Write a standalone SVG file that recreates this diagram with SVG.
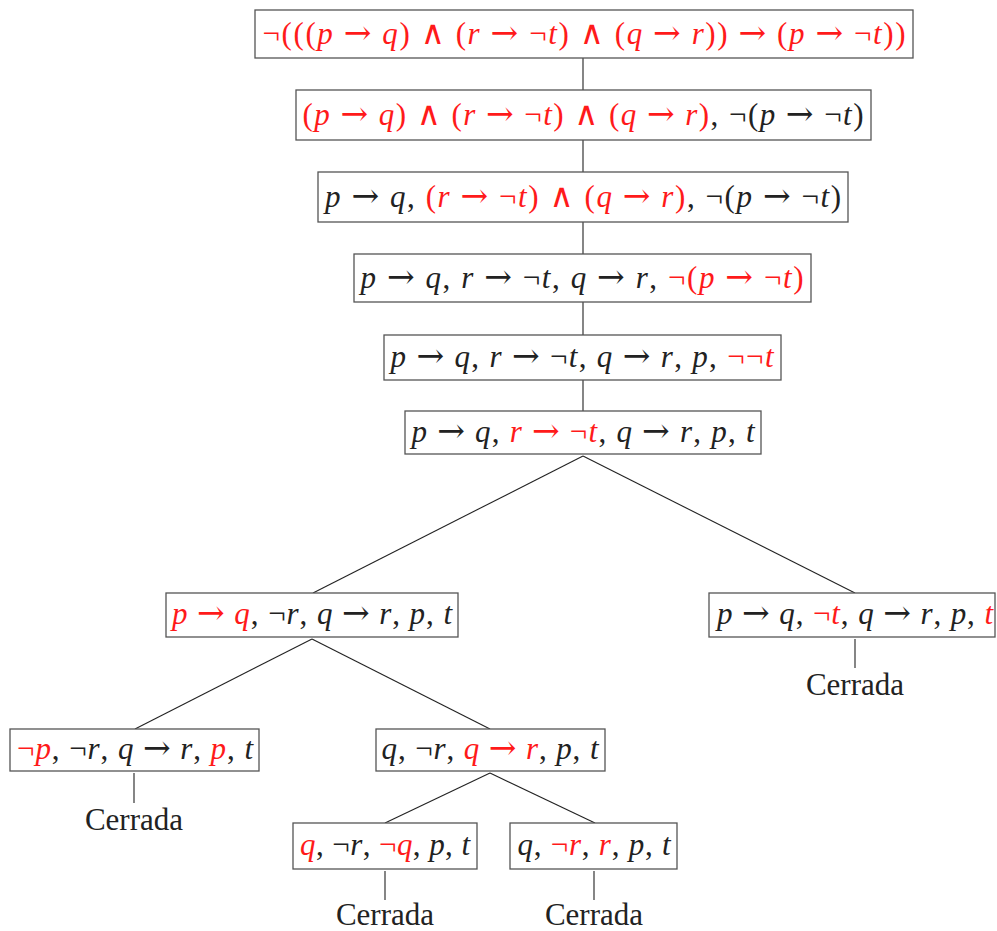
<svg xmlns="http://www.w3.org/2000/svg" width="997" height="931" viewBox="0 0 997 931">
<style>
.box{fill:#fff;stroke:#555;stroke-width:1.3}
.m{font-family:"Liberation Serif","DejaVu Serif",serif;font-size:31px;fill:#222;text-anchor:middle}
.r{fill:#ff1a1a}
.v{font-style:italic}
.a{font-family:"DejaVu Serif",serif;font-size:33px;font-weight:300}
.c{font-family:"Liberation Serif","DejaVu Serif",serif;font-size:31px;fill:#222;text-anchor:middle}
#edges line{stroke:#222;stroke-width:1.1}
</style>
<rect width="997" height="931" fill="#fff"/>
<g id="edges">
<line x1="583" y1="58" x2="583" y2="90"/>
<line x1="583" y1="140" x2="583" y2="172"/>
<line x1="583" y1="222" x2="583" y2="254"/>
<line x1="583" y1="302" x2="583" y2="335"/>
<line x1="583" y1="380" x2="583" y2="411"/>
<line x1="583" y1="456" x2="313" y2="593"/>
<line x1="583" y1="456" x2="855" y2="593"/>
<line x1="855" y1="639" x2="855" y2="668"/>
<line x1="312" y1="639" x2="135" y2="729"/>
<line x1="312" y1="639" x2="490" y2="729"/>
<line x1="134" y1="773" x2="134" y2="803"/>
<line x1="490" y1="773" x2="385" y2="823"/>
<line x1="490" y1="773" x2="595" y2="823"/>
<line x1="385" y1="871" x2="385" y2="900"/>
<line x1="594" y1="871" x2="594" y2="900"/>
</g>
<g id="n1">
<rect class="box" x="255" y="10" width="658" height="48"/>
<text class="m r" x="584" y="44" textLength="643" lengthAdjust="spacing">¬(((<tspan class="v">p</tspan> <tspan class="a">→</tspan> <tspan class="v">q</tspan>) <tspan class="a">∧</tspan> (<tspan class="v">r</tspan> <tspan class="a">→</tspan> ¬<tspan class="v">t</tspan>) <tspan class="a">∧</tspan> (<tspan class="v">q</tspan> <tspan class="a">→</tspan> <tspan class="v">r</tspan>)) <tspan class="a">→</tspan> (<tspan class="v">p</tspan> <tspan class="a">→</tspan> ¬<tspan class="v">t</tspan>))</text>
</g>
<g id="n2">
<rect class="box" x="296" y="90" width="575" height="50"/>
<text class="m" x="583" y="125" textLength="561" lengthAdjust="spacing"><tspan class="r">(<tspan class="v">p</tspan> <tspan class="a">→</tspan> <tspan class="v">q</tspan>) <tspan class="a">∧</tspan> (<tspan class="v">r</tspan> <tspan class="a">→</tspan> ¬<tspan class="v">t</tspan>) <tspan class="a">∧</tspan> (<tspan class="v">q</tspan> <tspan class="a">→</tspan> <tspan class="v">r</tspan>)</tspan>, ¬(<tspan class="v">p</tspan> <tspan class="a">→</tspan> ¬<tspan class="v">t</tspan>)</text>
</g>
<g id="n3">
<rect class="box" x="318" y="172" width="530" height="50"/>
<text class="m" x="583" y="207" textLength="516" lengthAdjust="spacing"><tspan class="v">p</tspan> <tspan class="a">→</tspan> <tspan class="v">q</tspan>, <tspan class="r">(<tspan class="v">r</tspan> <tspan class="a">→</tspan> ¬<tspan class="v">t</tspan>) <tspan class="a">∧</tspan> (<tspan class="v">q</tspan> <tspan class="a">→</tspan> <tspan class="v">r</tspan>)</tspan>, ¬(<tspan class="v">p</tspan> <tspan class="a">→</tspan> ¬<tspan class="v">t</tspan>)</text>
</g>
<g id="n4">
<rect class="box" x="354" y="254" width="457" height="48"/>
<text class="m" x="582" y="288" textLength="443" lengthAdjust="spacing"><tspan class="v">p</tspan> <tspan class="a">→</tspan> <tspan class="v">q</tspan>, <tspan class="v">r</tspan> <tspan class="a">→</tspan> ¬<tspan class="v">t</tspan>, <tspan class="v">q</tspan> <tspan class="a">→</tspan> <tspan class="v">r</tspan>, <tspan class="r">¬(<tspan class="v">p</tspan> <tspan class="a">→</tspan> ¬<tspan class="v">t</tspan>)</tspan></text>
</g>
<g id="n5">
<rect class="box" x="384" y="335" width="397" height="45"/>
<text class="m" x="582" y="367" textLength="383" lengthAdjust="spacing"><tspan class="v">p</tspan> <tspan class="a">→</tspan> <tspan class="v">q</tspan>, <tspan class="v">r</tspan> <tspan class="a">→</tspan> ¬<tspan class="v">t</tspan>, <tspan class="v">q</tspan> <tspan class="a">→</tspan> <tspan class="v">r</tspan>, <tspan class="v">p</tspan>, <tspan class="r">¬¬<tspan class="v">t</tspan></tspan></text>
</g>
<g id="n6">
<rect class="box" x="405" y="411" width="356" height="43"/>
<text class="m" x="583" y="442" textLength="343" lengthAdjust="spacing"><tspan class="v">p</tspan> <tspan class="a">→</tspan> <tspan class="v">q</tspan>, <tspan class="r"><tspan class="v">r</tspan> <tspan class="a">→</tspan> ¬<tspan class="v">t</tspan></tspan>, <tspan class="v">q</tspan> <tspan class="a">→</tspan> <tspan class="v">r</tspan>, <tspan class="v">p</tspan>, <tspan class="v">t</tspan></text>
</g>
<g id="n7">
<rect class="box" x="166" y="593" width="292" height="44"/>
<text class="m" x="312" y="624" textLength="280" lengthAdjust="spacing"><tspan class="r"><tspan class="v">p</tspan> <tspan class="a">→</tspan> <tspan class="v">q</tspan></tspan>, ¬<tspan class="v">r</tspan>, <tspan class="v">q</tspan> <tspan class="a">→</tspan> <tspan class="v">r</tspan>, <tspan class="v">p</tspan>, <tspan class="v">t</tspan></text>
</g>
<g id="n8">
<rect class="box" x="709" y="593" width="286" height="44"/>
<text class="m" x="855" y="624" textLength="276" lengthAdjust="spacing"><tspan class="v">p</tspan> <tspan class="a">→</tspan> <tspan class="v">q</tspan>, <tspan class="r">¬<tspan class="v">t</tspan></tspan>, <tspan class="v">q</tspan> <tspan class="a">→</tspan> <tspan class="v">r</tspan>, <tspan class="v">p</tspan>, <tspan class="r v">t</tspan></text>
</g>
<g id="c1"><text class="c" x="855" y="695">Cerrada</text></g>
<g id="n9">
<rect class="box" x="10" y="729" width="249" height="42"/>
<text class="m" x="135" y="759" textLength="236" lengthAdjust="spacing"><tspan class="r">¬<tspan class="v">p</tspan></tspan>, ¬<tspan class="v">r</tspan>, <tspan class="v">q</tspan> <tspan class="a">→</tspan> <tspan class="v">r</tspan>, <tspan class="r v">p</tspan>, <tspan class="v">t</tspan></text>
</g>
<g id="c2"><text class="c" x="134" y="830">Cerrada</text></g>
<g id="n10">
<rect class="box" x="376" y="729" width="229" height="42"/>
<text class="m" x="490" y="759" textLength="217" lengthAdjust="spacing"><tspan class="v">q</tspan>, ¬<tspan class="v">r</tspan>, <tspan class="r"><tspan class="v">q</tspan> <tspan class="a">→</tspan> <tspan class="v">r</tspan></tspan>, <tspan class="v">p</tspan>, <tspan class="v">t</tspan></text>
</g>
<g id="n11">
<rect class="box" x="293" y="823" width="184" height="46"/>
<text class="m" x="385" y="855" textLength="170" lengthAdjust="spacing"><tspan class="r v">q</tspan>, ¬<tspan class="v">r</tspan>, <tspan class="r">¬<tspan class="v">q</tspan></tspan>, <tspan class="v">p</tspan>, <tspan class="v">t</tspan></text>
</g>
<g id="n12">
<rect class="box" x="510" y="823" width="167" height="46"/>
<text class="m" x="594" y="855" textLength="153" lengthAdjust="spacing"><tspan class="v">q</tspan>, <tspan class="r">¬<tspan class="v">r</tspan></tspan>, <tspan class="r v">r</tspan>, <tspan class="v">p</tspan>, <tspan class="v">t</tspan></text>
</g>
<g id="c3"><text class="c" x="385" y="925">Cerrada</text></g>
<g id="c4"><text class="c" x="594" y="925">Cerrada</text></g>
</svg>
